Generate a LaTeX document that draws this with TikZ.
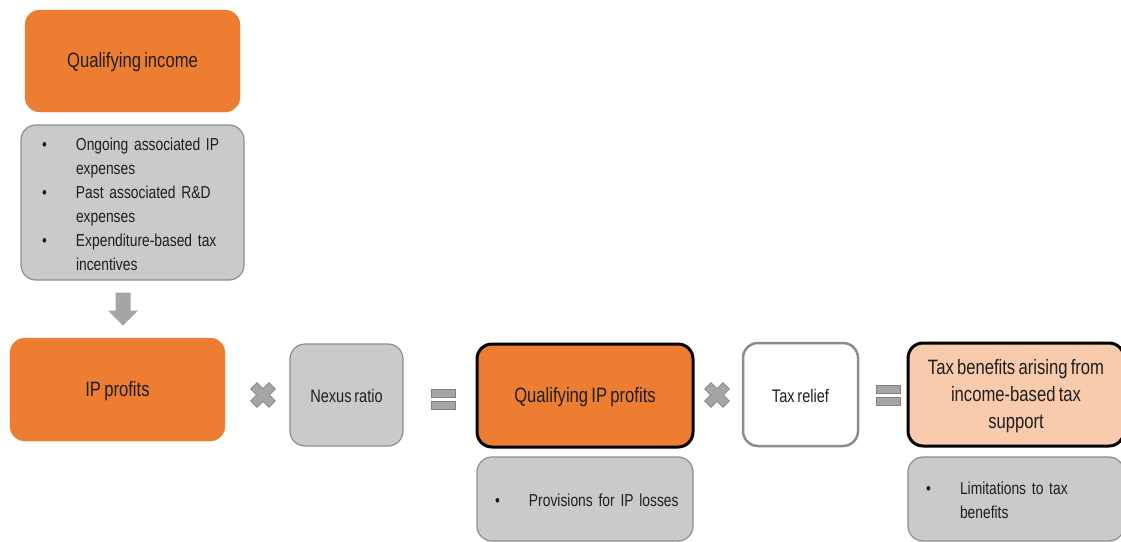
\documentclass[tikz,border=0pt]{standalone}
\usepackage{fontspec}
\setmainfont{Liberation Sans}[FakeStretch=0.8, WordSpace=0.7]
\definecolor{orng}{HTML}{ED7D31}
\definecolor{peach}{HTML}{F8CBAD}
\definecolor{boxgrey}{HTML}{CACACA}
\definecolor{edgegrey}{HTML}{8C8C8C}
\definecolor{symgrey}{HTML}{A5A5A5}
\definecolor{symedge}{HTML}{808080}
\definecolor{txt}{HTML}{1E1E1E}
\tikzset{
  base/.style={rectangle, rounded corners=15pt, align=center, text=txt, inner sep=0pt},
  bigfont/.style={font=\fontsize{20.8}{27}\selectfont},
  orangebox/.style={base, fill=orng, draw=orng, bigfont},
  greybox/.style={base, fill=boxgrey, draw=edgegrey, line width=1.2pt, font=\fontsize{18.2}{24}\selectfont},
  boldbox/.style={base, draw=black, line width=3pt, bigfont},
  listbox/.style={greybox, align=left, font=\fontsize{17.3}{24}\selectfont},
  symb/.style={fill=symgrey, draw=symedge, line width=0.8pt},
}
\newcommand{\blist}[1]{\raisebox{-3pt}[\height][\depth]{\begin{tabular}{@{}p{34pt}@{}l@{}}#1\end{tabular}}}
\newcommand{\dn}[2]{\raisebox{-#1}[\height][\depth]{#2}}
\begin{document}
\begin{tikzpicture}[x=1pt,y=-1pt]
\useasboundingbox (0,0) rectangle (1121,541);
% top-left column
\node[orangebox, minimum width=215pt, minimum height=102pt] (qi) at (132.5,61) {\dn{1.5pt}{Qualifying income}};
\node[listbox, minimum width=223pt, minimum height=155pt, text width=181pt] (exp) at (132.5,202.5)
  {\blist{\textbullet & Ongoing associated IP\\ & expenses\\ \textbullet & Past associated R\&D\\ & expenses\\ \textbullet & Expenditure-based tax\\ & incentives}};
% main row
\node[orangebox, minimum width=215pt, minimum height=103pt] (ipp) at (117.5,389.5) {\dn{1.5pt}{IP profits}};
\node[greybox, minimum width=113pt, minimum height=102pt] (nex) at (346.5,395) {\dn{1pt}{Nexus ratio}};
\node[boldbox, fill=orng, minimum width=216pt, minimum height=103pt] (qip) at (585,395.5) {\dn{1.5pt}{Qualifying IP profits}};
\node[base, fill=white, draw=edgegrey, line width=2.5pt, minimum width=115pt, minimum height=103pt, font=\fontsize{18.2}{24}\selectfont] (tr) at (800.5,394.5) {\dn{1pt}{Tax relief}};
\node[boldbox, fill=peach, minimum width=216pt, minimum height=103pt] (tb) at (1016,394.5) {\dn{2pt}{\begin{tabular}{@{}c@{}}Tax benefits arising from\\income-based tax\\support\end{tabular}}};
% lower boxes
\node[listbox, minimum width=216pt, minimum height=84pt, text width=180pt] (prov) at (585,499) {\blist{\textbullet & Provisions for IP losses}};
\node[listbox, minimum width=216pt, minimum height=84pt, text width=180pt] (lim) at (1016,499) {\blist{\textbullet & Limitations to tax\\ & benefits}};
% block arrow from the expenses box to IP profits
\coordinate (atop) at ([yshift=-12pt]exp.south);
\fill[symgrey, shift={(atop)}, xshift=-9.5pt]
  (-7.5,0) -- (7.5,0) -- (7.5,18) -- (15,18) -- (0,33) -- (-15,18) -- (-7.5,18) -- cycle;
% operators
\foreach \n/\cx/\cy in {m1/263/395, m2/717/395}{
  \coordinate (\n) at (\cx,\cy);
  \draw[symb, shift={(\n)}, rotate=45]
    (-4.5,-13) -- (4.5,-13) -- (4.5,-4.5) -- (13,-4.5) -- (13,4.5) -- (4.5,4.5) -- (4.5,13) -- (-4.5,13) -- (-4.5,4.5) -- (-13,4.5) -- (-13,-4.5) -- (-4.5,-4.5) -- cycle;
}
\foreach \n/\cx/\cy in {e1/443/399, e2/888/395}{
  \coordinate (\n) at (\cx,\cy);
  \draw[symb, shift={(\n)}] (-12,-10) rectangle (12,-2);
  \draw[symb, shift={(\n)}] (-12,2) rectangle (12,10);
}
\end{tikzpicture}
\end{document}
